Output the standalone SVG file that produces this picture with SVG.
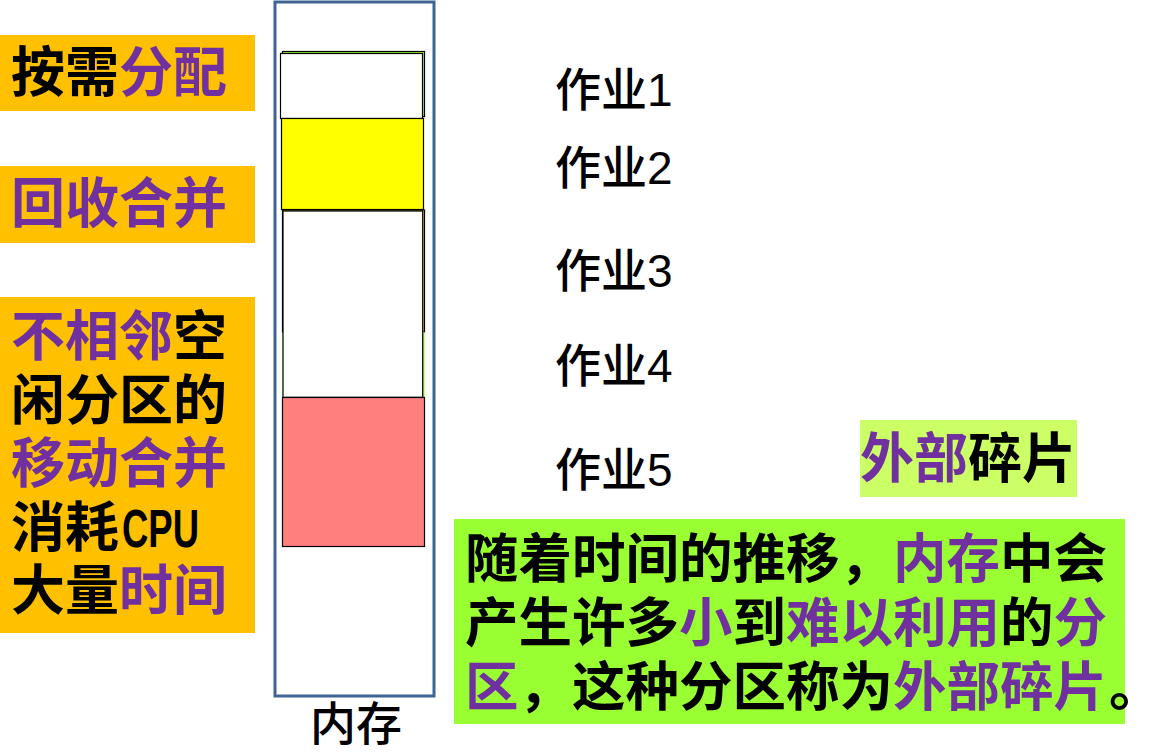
<svg xmlns="http://www.w3.org/2000/svg" width="1163" height="753" viewBox="0 0 1163 753">
<style>
.b{font-family:"Noto Sans CJK SC","Noto Sans CJK JP",sans-serif;font-weight:bold;font-size:54px;fill:#000}
.e{font-size:53.5px}
.p{fill:#7030A0}
.r{font-family:"Liberation Sans","Noto Sans CJK SC",sans-serif;font-size:46px;font-weight:500;fill:#000}
.blk{stroke:#000;stroke-width:1.2}
</style>
<rect width="1163" height="753" fill="#fff"/>

<g id="panel-alloc">
<rect x="0" y="35" width="255" height="76" fill="#FFC000"/>
<text class="b" x="11" y="92">按需<tspan class="p">分配</tspan></text>
</g>
<g id="panel-merge">
<rect x="0" y="166" width="255" height="77" fill="#FFC000"/>
<text class="b p" x="11" y="223">回收合并</text>
</g>
<g id="panel-move">
<rect x="0" y="297" width="255" height="336" fill="#FFC000"/>
<text class="b" x="11" y="356"><tspan class="p">不相邻</tspan>空</text>
<text class="b" x="11" y="420">闲分区的</text>
<text class="b p" x="11" y="483">移动合并</text>
<text class="b" x="11" y="547">消耗</text>
<text x="122" y="547" font-family="Liberation Sans, sans-serif" font-weight="bold" font-size="53" textLength="77" lengthAdjust="spacingAndGlyphs">CPU</text>
<text class="b" x="11" y="610">大量<tspan class="p">时间</tspan></text>
</g>

<g id="memory">
<rect x="275" y="2" width="159" height="694" fill="#fff" stroke="#3F6493" stroke-width="3"/>
<g id="job1">
<rect x="282.5" y="51.5" width="142" height="65" fill="#99FF33" class="blk"/>
<rect x="280.5" y="53.5" width="142" height="65" fill="#fff" class="blk"/>
</g>
<g id="job2">
<rect x="281.5" y="118.5" width="142" height="91" fill="#FFFF00" class="blk"/>
</g>
<g id="job3-4">
<rect x="282.5" y="210" width="142" height="122" fill="#FFC000" class="blk"/>
<rect x="282.5" y="332" width="142" height="65" fill="#99FF33" stroke="none"/>
<rect x="283" y="211" width="139.7" height="186.3" fill="#fff" class="blk"/>
</g>
<g id="job5">
<rect x="282.5" y="397.5" width="142" height="149" fill="#FF7F7F" class="blk"/>
</g>
<text class="r" x="356" y="740" text-anchor="middle">内存</text>
</g>

<g id="labels">
<text class="r" x="555" y="106">作业1</text>
<text class="r" x="555" y="184">作业2</text>
<text class="r" x="555" y="287">作业3</text>
<text class="r" x="555" y="382">作业4</text>
<text class="r" x="555" y="486">作业5</text>
</g>

<g id="ext-frag">
<rect x="860" y="420" width="217" height="77" fill="#CCFF66"/>
<text class="b" x="860" y="478"><tspan class="p">外部</tspan>碎片</text>
</g>

<g id="explain">
<rect x="454" y="519" width="671" height="205" fill="#99FF33"/>
<text class="b e" x="465" y="578">随着时间的推移，<tspan class="p">内存</tspan>中会</text>
<text class="b e" x="465" y="642">产生许多<tspan class="p">小</tspan>到<tspan class="p">难以利用</tspan>的<tspan class="p">分</tspan></text>
<text class="b e" x="465" y="706"><tspan class="p">区</tspan>，这种分区称为<tspan class="p">外部碎片</tspan><tspan dx="2">。</tspan></text>
</g>
</svg>
